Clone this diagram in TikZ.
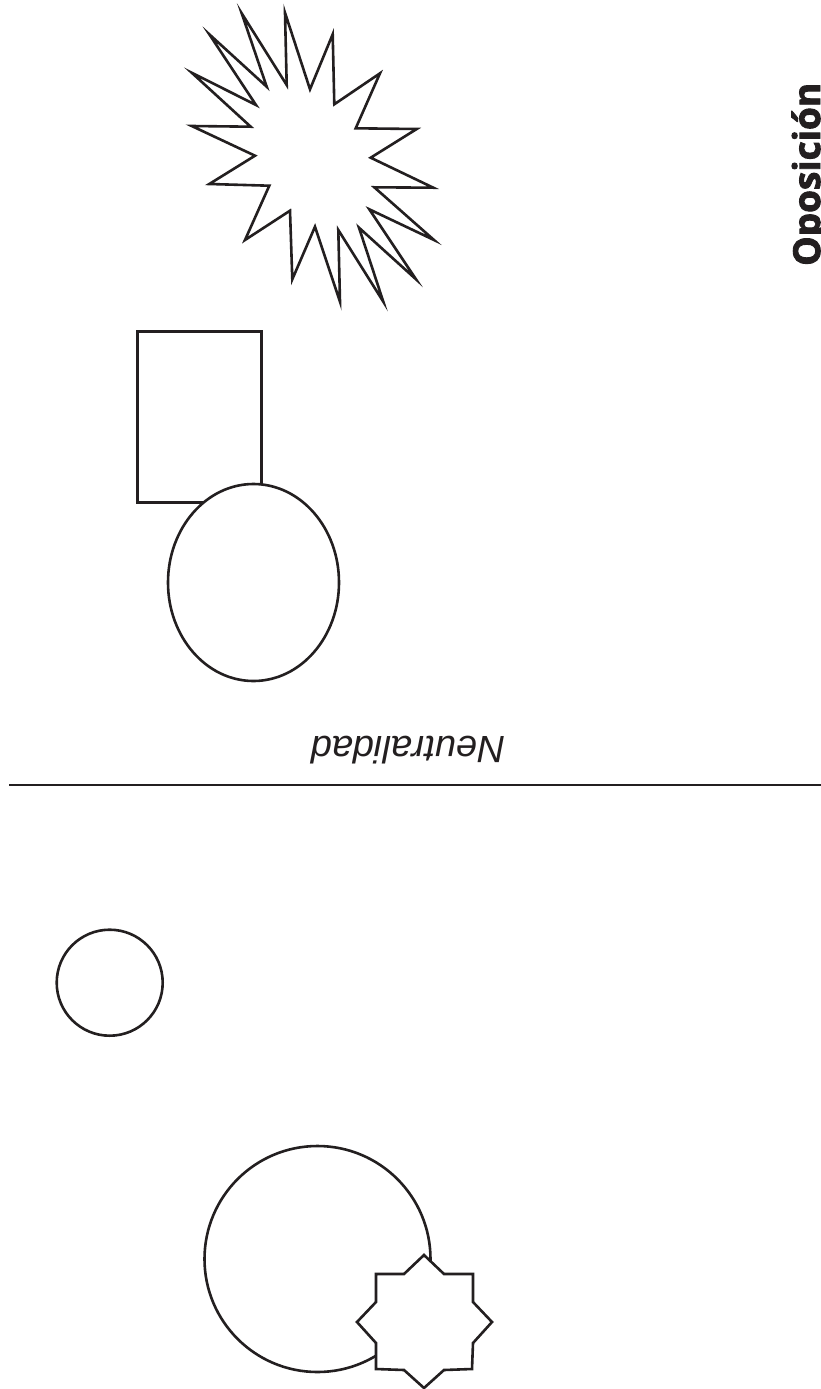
\documentclass[tikz,border=0pt]{standalone}
\usepackage{fontspec}
\setmainfont{Open Sans}
\newfontfamily\neutralfont{Liberation Sans}
\newfontfamily\opfont{Open Sans}[BoldFeatures={FakeBold=2.5}]
\definecolor{ink}{HTML}{231F20}
\begin{document}
\begin{tikzpicture}[x=1pt,y=-1pt,
  shape line/.style={draw=ink,line width=2.6pt,fill=white,line join=miter},
  divider/.style={draw=ink,line width=2.6pt}]
\useasboundingbox (0,0) rectangle (821,1389);
% starburst
\draw[shape line] (241.7,13.3) -- (286.7,85) -- (285,12.7) -- (310,89.3) -- (332.7,34.3) -- (334.3,104.3) -- (380,73.3) -- (355.7,128.3) -- (416.7,129) -- (370.7,157.7) -- (433.3,187.7) -- (374.3,187.3) -- (434,240) -- (369.3,209.3) -- (416,279.3) -- (359,227.7) -- (383.3,301.7) -- (338.3,230) -- (340,301.7) -- (315,226.7) -- (292.3,279.3) -- (290,210.7) -- (245,240) -- (269.3,185.7) -- (209.3,184) -- (255,155.7) -- (191.7,126) -- (250.7,126.7) -- (191.7,72.7) -- (256,105) -- (209.3,34.3) -- (266.7,86.7) -- cycle;
% rectangle and ellipse
\draw[shape line] (137.3,331.7) rectangle (261.7,502.7);
\draw[shape line] (253.5,582.5) ellipse [x radius=85.5pt, y radius=98.5pt];
% text
\node[text=ink,rotate=180,inner sep=0pt] (neutral) at (408,750) {\fontsize{38}{44}\selectfont\neutralfont\itshape Neutralidad};
\node[text=ink,rotate=90,anchor=base west,inner sep=0pt] (oposicion) at (820,266) {\fontsize{37}{42}\selectfont\opfont\bfseries Oposición};
% divider
\coordinate (lineL) at (9,785);
\coordinate (lineR) at (821,785);
\draw[divider] (lineL) -- (lineR);
% small circle
\draw[shape line] (109.7,982.7) circle [radius=53pt];
% big circle and star
\draw[shape line] (317.5,1259) circle [radius=113pt];
\draw[shape line] (424,1255) -- (444,1274) -- (473,1274) -- (473,1302) -- (492,1322) -- (473,1343) -- (472,1369) -- (444,1370) -- (424,1388) -- (404,1370) -- (376,1369) -- (376,1343) -- (357,1322) -- (376,1302) -- (376,1274) -- (404,1274) -- cycle;
\end{tikzpicture}
\end{document}
